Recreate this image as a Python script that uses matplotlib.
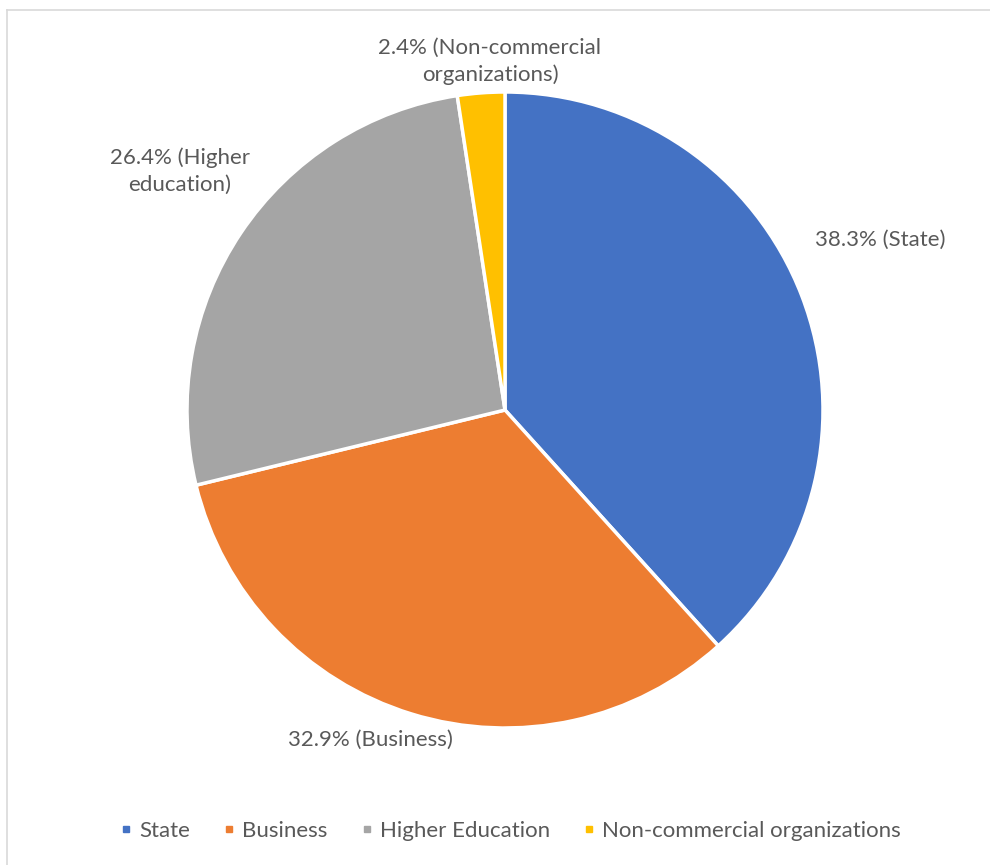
import matplotlib
matplotlib.use("Agg")
import matplotlib.pyplot as plt
from matplotlib.lines import Line2D

categories = ["State", "Business", "Higher Education", "Non-commercial organizations"]
shares = [38.3, 32.9, 26.4, 2.4]
label_texts = ["State", "Business", "Higher\neducation", "Non-commercial\norganizations"]
colors = ["#4472C4", "#ED7D31", "#A5A5A5", "#FFC000"]

W, H = 990, 865
TEXT = "#595959"
FONT = "Lato"
FS = 16

fig = plt.figure(figsize=(W / 100, H / 100), dpi=100)
fig.patch.set_facecolor("white")

# chart area frame (top and left edges)
fig.add_artist(Line2D([7 / W, 1], [1 - 10 / H, 1 - 10 / H], color="#d9d9d9", lw=1.2))
fig.add_artist(Line2D([7 / W, 7 / W], [0, 1 - 10 / H], color="#d9d9d9", lw=1.2))

cx, cy, r = 505, 410, 318
ax = fig.add_axes([(cx - r) / W, (H - cy - r) / H, 2 * r / W, 2 * r / H])
wedges, _ = ax.pie(shares, colors=colors, startangle=90, counterclock=False,
                   wedgeprops=dict(edgecolor="white", linewidth=2.5))
ax.set_xlim(-1, 1)
ax.set_ylim(-1, 1)
ax.set_aspect("equal")
ax.axis("off")

# data labels: value plus category name
label_pos = [(880, 240), (370, 740), (180, 171), (490, 61)]
for val, name, (px, py) in zip(shares, label_texts, label_pos):
    first, *rest = name.split("\n")
    txt = f"{val}% ({first}" + ("\n" + "\n".join(rest) + ")" if rest else ")")
    fig.text(px / W, 1 - py / H, txt, ha="center", va="center", color=TEXT,
             fontsize=FS, family=FONT, linespacing=1.4)

handles = [Line2D([], [], marker="s", linestyle="none", markersize=4.8,
                  markerfacecolor=c, markeredgecolor=c) for c in colors]
fig.legend(handles, categories, loc="center", bbox_to_anchor=(511 / W, 1 - 831 / H),
           ncol=4, frameon=False, handletextpad=0.35, columnspacing=1.55,
           handlelength=0.45, prop=dict(family=FONT, size=FS), labelcolor=TEXT)

fig.savefig("out.png", dpi=100, facecolor="white")
